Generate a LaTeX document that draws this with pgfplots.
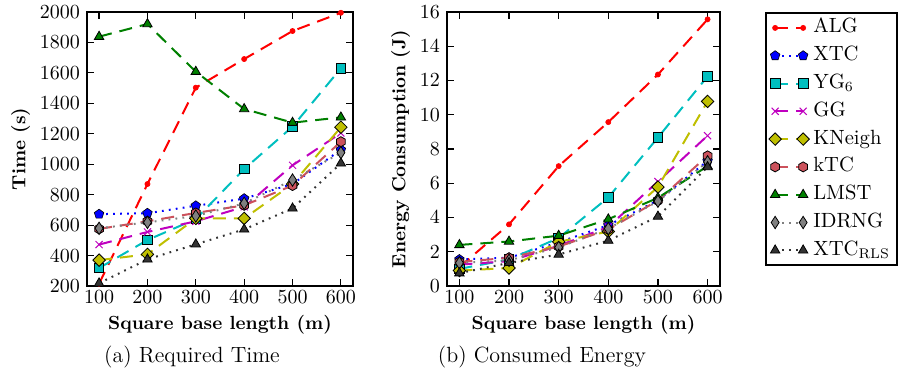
\documentclass[border=0pt]{standalone}
\usepackage{pgfplots}
\pgfplotsset{compat=1.18}
\usetikzlibrary{plotmarks}

\pgfdeclareplotmark{hexagon*}{%
  \pgfpathmoveto{\pgfpointpolar{90}{\pgfplotmarksize}}%
  \pgfpathlineto{\pgfpointpolar{150}{\pgfplotmarksize}}%
  \pgfpathlineto{\pgfpointpolar{210}{\pgfplotmarksize}}%
  \pgfpathlineto{\pgfpointpolar{270}{\pgfplotmarksize}}%
  \pgfpathlineto{\pgfpointpolar{330}{\pgfplotmarksize}}%
  \pgfpathlineto{\pgfpointpolar{30}{\pgfplotmarksize}}%
  \pgfpathclose
  \pgfusepathqfillstroke}

\definecolor{mplr}{rgb}{1,0,0}
\definecolor{mplb}{rgb}{0,0,1}
\definecolor{mplc}{rgb}{0,0.75,0.75}
\definecolor{mplm}{rgb}{0.75,0,0.75}
\definecolor{mply}{rgb}{0.75,0.75,0}
\definecolor{mplg}{rgb}{0,0.5,0}
\definecolor{ktc}{rgb}{0.80,0.32,0.36}
\definecolor{idrng}{rgb}{0.5,0.5,0.5}
\definecolor{rls}{rgb}{0.2,0.2,0.2}

\pgfplotsset{
  dsh/.style={line width=1pt, dash pattern=on 6.5pt off 4pt},
  dtt/.style={line width=1pt, dash pattern=on 0.9pt off 2.6pt},
  alg/.style={color=mplr, dsh, mark=*, mark size=1.3pt, mark options={solid, fill=mplr, draw=mplr, line width=0.3pt}},
  xtc/.style={color=mplb, dtt, mark=pentagon*, mark size=2.5pt, mark options={solid, fill=mplb, draw=black, line width=0.3pt}},
  yg/.style={color=mplc, dsh, mark=square*, mark size=2.4pt, mark options={solid, fill=mplc, draw=black, line width=0.4pt}},
  gg/.style={color=mplm, dsh, mark=x, mark size=2.5pt, mark options={solid, draw=mplm, line width=0.5pt}},
  kn/.style={color=mply, dsh, mark=square*, mark size=2.2pt, mark options={solid, rotate=45, fill=mply, draw=black, line width=0.4pt}},
  kt/.style={color=ktc, dsh, mark=hexagon*, mark size=2.5pt, mark options={solid, fill=ktc, draw=black, line width=0.4pt}},
  lm/.style={color=mplg, dsh, mark=triangle*, mark size=2.7pt, mark options={solid, fill=mplg, draw=black, line width=0.4pt}},
  idr/.style={color=idrng, dtt, mark=diamond*, mark size=3.1pt, mark options={solid, xscale=0.85, fill=idrng, draw=black, line width=0.4pt}},
  rl/.style={color=rls, dtt, mark=triangle*, mark size=2.7pt, mark options={solid, fill=rls, draw=black, line width=0.4pt}},
  myax/.style={
    scale only axis, height=137pt,
    xmin=75, xmax=625, xtick={100,200,300,400,500,600},
    axis line style={line width=0.9pt},
    major tick style={line width=0.6pt, black},
    major tick length=3.5pt,
    tick label style={font=\fontsize{10.4}{12}\selectfont},
    /pgf/number format/1000 sep={},
    xticklabel style={yshift=1pt},
    label style={font=\fontsize{9.5}{11.5}\selectfont\bfseries},
    xlabel style={yshift=1pt},
    ylabel style={yshift=-2pt},
    clip=true,
  },
}

\begin{document}
\begin{tikzpicture}
\useasboundingbox (-43.5pt,-45pt) rectangle (407.5pt,143pt);

\begin{axis}[myax, at={(0pt,0pt)}, anchor=south west, width=133pt,
  ymin=200, ymax=2000, ytick={200,400,...,2000},
  xlabel={Square base length (m)}, ylabel={Time (s)}]
\addplot[alg] coordinates {(100,215) (200,870) (300,1503) (400,1691) (500,1875) (600,1995)};
\addplot[xtc] coordinates {(100,672) (200,678) (300,727) (400,774) (500,870) (600,1095)};
\addplot[yg] coordinates {(100,318) (200,502) (300,640) (400,968) (500,1247) (600,1630)};
\addplot[gg] coordinates {(100,472) (200,555) (300,625) (400,720) (500,993) (600,1205)};
\addplot[kn] coordinates {(100,370) (200,408) (300,644) (400,644) (500,870) (600,1243)};
\addplot[kt] coordinates {(100,575) (200,625) (300,680) (400,730) (500,860) (600,1148)};
\addplot[lm] coordinates {(100,1838) (200,1921) (300,1608) (400,1363) (500,1273) (600,1308)};
\addplot[idr] coordinates {(100,579) (200,618) (300,660) (400,743) (500,896) (600,1076)};
\addplot[rl] coordinates {(100,218) (200,375) (300,474) (400,572) (500,710) (600,1006)};
\end{axis}

\begin{axis}[myax, at={(180pt,0pt)}, anchor=south west, width=136.5pt,
  ymin=0, ymax=16, ytick={0,2,...,16},
  xlabel={Square base length (m)}, ylabel={Energy Consumption (J)},
  legend cell align=left,
  legend image code/.code={\draw plot coordinates {(0pt,0pt) (14pt,0pt)};},
  legend style={at={(1.165,1)}, anchor=north west, draw=black, line width=0.9pt,
    font=\fontsize{10.3}{12}\selectfont, inner sep=1.5pt, row sep=1.9pt,
    nodes={text height=6.5pt, text depth=1.5pt, inner sep=2pt},
    /tikz/every even column/.append style={column sep=2pt}}]
\addplot[alg] coordinates {(100,1.1) (200,3.6) (300,7.0) (400,9.57) (500,12.35) (600,15.57)};
\addlegendentry{ALG}
\addplot[xtc] coordinates {(100,1.55) (200,1.65) (300,2.55) (400,3.55) (500,5.0) (600,7.3)};
\addlegendentry{XTC}
\addplot[yg] coordinates {(100,1.0) (200,1.55) (300,2.8) (400,5.17) (500,8.67) (600,12.24)};
\addlegendentry{YG$_6$}
\addplot[gg] coordinates {(100,1.25) (200,1.45) (300,2.35) (400,3.45) (500,6.1) (600,8.78)};
\addlegendentry{GG}
\addplot[kn] coordinates {(100,0.9) (200,1.05) (300,2.58) (400,3.18) (500,5.78) (600,10.78)};
\addlegendentry{KNeigh}
\addplot[kt] coordinates {(100,1.4) (200,1.65) (300,2.3) (400,3.3) (500,5.0) (600,7.6)};
\addlegendentry{kTC}
\addplot[lm] coordinates {(100,2.4) (200,2.6) (300,2.94) (400,3.9) (500,5.15) (600,7.0)};
\addlegendentry{LMST}
\addplot[idr] coordinates {(100,1.35) (200,1.5) (300,2.25) (400,3.35) (500,4.95) (600,7.25)};
\addlegendentry{IDRNG}
\addplot[rl] coordinates {(100,0.75) (200,1.35) (300,1.84) (400,2.65) (500,4.06) (600,6.95)};
\addlegendentry{XTC$_{\mathrm{RLS}}$}
\end{axis}

\node[font=\fontsize{11}{13}\selectfont, anchor=base] at (52.5pt,-38pt) {(a) Required Time};
\node[font=\fontsize{11}{13}\selectfont, anchor=base] at (227.5pt,-38pt) {(b) Consumed Energy};
\end{tikzpicture}
\end{document}
